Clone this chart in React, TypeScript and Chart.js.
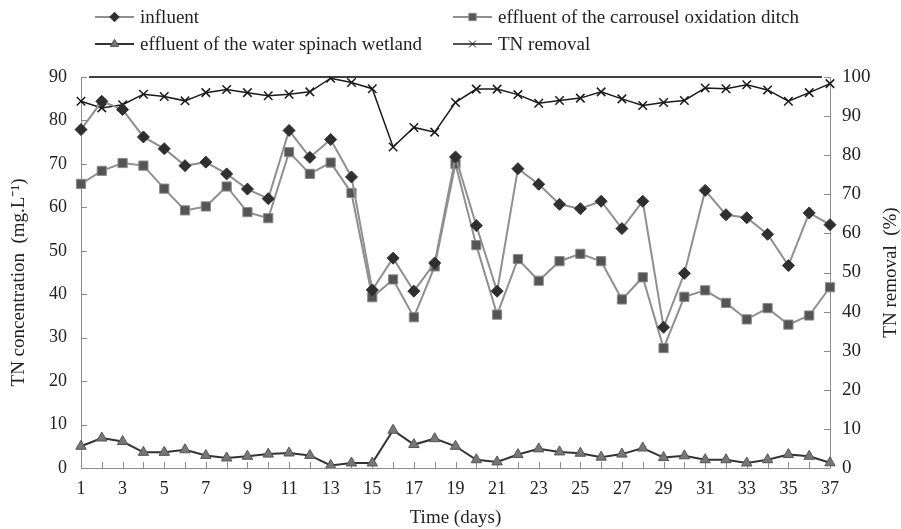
import React, { useEffect, useRef } from "react";
import { Chart, registerables } from "chart.js";

Chart.register(...registerables);

const days = ["1","2","3","4","5","6","7","8","9","10","11","12","13","14","15","16","17","18","19","20","21","22","23","24","25","26","27","28","29","30","31","32","33","34","35","36","37"];

const influent = [77.9, 84.4, 82.5, 76.2, 73.5, 69.6, 70.4, 67.7, 64.2, 62.0, 77.7, 71.5, 75.6, 67.0, 41.0, 48.3, 40.7, 47.2, 71.6, 55.8, 40.7, 68.9, 65.3, 60.7, 59.7, 61.4, 55.1, 61.4, 32.4, 44.8, 63.9, 58.3, 57.6, 53.8, 46.6, 58.7, 56.0];
const ditchEffluent = [65.4, 68.4, 70.2, 69.6, 64.3, 59.3, 60.2, 64.8, 58.9, 57.5, 72.7, 67.7, 70.3, 63.3, 39.3, 43.4, 34.7, 46.4, 70.0, 51.3, 35.3, 48.1, 43.1, 47.6, 49.3, 47.6, 38.8, 43.9, 27.6, 39.4, 40.9, 38.0, 34.2, 36.8, 33.0, 35.1, 41.6];
const wetlandEffluent = [5.0, 6.9, 6.1, 3.6, 3.6, 4.2, 2.9, 2.3, 2.7, 3.2, 3.45, 2.9, 0.6, 1.15, 1.15, 8.7, 5.4, 6.75, 5.0, 1.9, 1.4, 3.1, 4.4, 3.7, 3.4, 2.5, 3.2, 4.6, 2.4, 2.8, 1.9, 1.9, 1.15, 1.9, 3.1, 2.7, 1.2];
const tnRemoval = [93.8, 92.1, 92.9, 95.6, 95.0, 93.9, 96.0, 96.8, 96.0, 95.2, 95.6, 96.2, 99.7, 98.6, 97.0, 82.1, 87.1, 85.9, 93.5, 96.9, 96.9, 95.5, 93.3, 94.0, 94.6, 96.2, 94.4, 92.7, 93.5, 94.0, 97.2, 97.0, 98.0, 96.7, 93.8, 96.0, 98.3];

const seriesNames = [
  "influent",
  "effluent of the carrousel oxidation ditch",
  "effluent of the water spinach wetland",
  "TN removal",
];
const leftTitle = "TN concentration  (mg.L\u207B\u00B9)";
const rightTitle = "TN removal  (%)";
const xTitle = "Time (days)";

const FONT = "'Liberation Serif', 'Times New Roman', serif";

function drawMarker(ctx: CanvasRenderingContext2D, style: string, r: number, x: number, y: number) {
  ctx.beginPath();
  if (style === "rectRot") {
    ctx.moveTo(x, y - r);
    ctx.lineTo(x + r, y);
    ctx.lineTo(x, y + r);
    ctx.lineTo(x - r, y);
    ctx.closePath();
    ctx.fill();
    ctx.stroke();
  } else if (style === "rect") {
    const s = r * Math.SQRT1_2;
    ctx.rect(x - s, y - s, 2 * s, 2 * s);
    ctx.fill();
    ctx.stroke();
  } else if (style === "triangle") {
    ctx.moveTo(x, y - r);
    ctx.lineTo(x + r * 0.866, y + r * 0.5);
    ctx.lineTo(x - r * 0.866, y + r * 0.5);
    ctx.closePath();
    ctx.fill();
    ctx.stroke();
  } else {
    const s = r * Math.SQRT1_2;
    ctx.moveTo(x - s, y - s);
    ctx.lineTo(x + s, y + s);
    ctx.moveTo(x + s, y - s);
    ctx.lineTo(x - s, y + s);
    ctx.stroke();
  }
}

const axesPlugin = {
  id: "customAxes",
  beforeDatasetsDraw(chart: any) {
    const { ctx, chartArea } = chart;
    const { left, right, top, bottom } = chartArea;
    const x = chart.scales.x;
    const y = chart.scales.y;
    const y1 = chart.scales.y1;
    ctx.save();
    ctx.lineWidth = 1;
    ctx.strokeStyle = "#8c8c8c";
    ctx.beginPath();
    ctx.moveTo(left + 0.5, top);
    ctx.lineTo(left + 0.5, bottom + 0.5);
    ctx.lineTo(right + 0.5, bottom + 0.5);
    ctx.lineTo(right + 0.5, top);
    ctx.stroke();
    ctx.beginPath();
    y.ticks.forEach((t: any) => {
      const py = Math.round(y.getPixelForValue(t.value)) + 0.5;
      ctx.moveTo(left, py);
      ctx.lineTo(left + 6, py);
    });
    y1.ticks.forEach((t: any) => {
      const py = Math.round(y1.getPixelForValue(t.value)) + 0.5;
      ctx.moveTo(right, py);
      ctx.lineTo(right - 6, py);
    });
    days.forEach((_, i) => {
      const px = Math.round(x.getPixelForValue(i)) + 0.5;
      ctx.moveTo(px, bottom);
      ctx.lineTo(px, bottom - 6);
    });
    ctx.stroke();
    ctx.strokeStyle = "#000";
    ctx.lineWidth = 1.5;
    ctx.beginPath();
    ctx.moveTo(left + 8, top);
    ctx.lineTo(right - 8, top);
    ctx.stroke();
    ctx.restore();
  },
  afterDraw(chart: any) {
    const { ctx, chartArea } = chart;
    ctx.save();
    ctx.fillStyle = "#222";
    ctx.font = `19px ${FONT}`;
    ctx.textAlign = "center";
    ctx.textBaseline = "middle";
    ctx.translate(19, (chartArea.top + chartArea.bottom) / 2 + 10);
    ctx.rotate(-Math.PI / 2);
    ctx.fillText(leftTitle, 0, 0);
    ctx.setTransform(1, 0, 0, 1, 0, 0);
    ctx.translate(891, (chartArea.top + chartArea.bottom) / 2);
    ctx.rotate(-Math.PI / 2);
    ctx.fillText(rightTitle, 0, 0);
    ctx.setTransform(1, 0, 0, 1, 0, 0);

    const items = [
      { ds: 0, x: 95, y: 17 },
      { ds: 1, x: 453, y: 17 },
      { ds: 2, x: 95, y: 44 },
      { ds: 3, x: 453, y: 44 },
    ];
    items.forEach((it) => {
      const ds = chart.data.datasets[it.ds];
      ctx.strokeStyle = ds.borderColor;
      ctx.lineWidth = ds.borderWidth;
      ctx.beginPath();
      ctx.moveTo(it.x, it.y);
      ctx.lineTo(it.x + 39, it.y);
      ctx.stroke();
      ctx.fillStyle = ds.pointBackgroundColor;
      ctx.strokeStyle = ds.pointBorderColor;
      ctx.lineWidth = 1;
      drawMarker(ctx, ds.pointStyle, ds.pointRadius * 0.8, it.x + 19.5, it.y);
      ctx.fillStyle = "#222";
      ctx.font = `19px ${FONT}`;
      ctx.textAlign = "left";
      ctx.textBaseline = "middle";
      ctx.fillText(seriesNames[it.ds], it.x + 45, it.y + 1);
    });
    ctx.restore();
  },
};

export default function App() {
  const ref = useRef<HTMLCanvasElement | null>(null);
  useEffect(() => {
    if (!ref.current) return;
    Chart.defaults.font.family = FONT;
    Chart.defaults.color = "#222";
    const chart: any = new Chart(ref.current, {
      type: "line",
      data: {
        labels: days,
        datasets: [
          {
            label: seriesNames[0],
            data: influent,
            yAxisID: "y",
            borderColor: "#8f8f8f",
            borderWidth: 2,
            pointStyle: "rectRot",
            pointRadius: 6,
            pointBackgroundColor: "#2f2f2f",
            pointBorderColor: "#2f2f2f",
            pointBorderWidth: 1,
            tension: 0,
          },
          {
            label: seriesNames[1],
            data: ditchEffluent,
            yAxisID: "y",
            borderColor: "#8f8f8f",
            borderWidth: 2,
            pointStyle: "rect",
            pointRadius: 6.5,
            pointBackgroundColor: "#555555",
            pointBorderColor: "#8a8a8a",
            pointBorderWidth: 1,
            tension: 0,
          },
          {
            label: seriesNames[2],
            data: wetlandEffluent,
            yAxisID: "y",
            borderColor: "#333333",
            borderWidth: 2,
            pointStyle: "triangle",
            pointRadius: 6,
            pointBackgroundColor: "#777777",
            pointBorderColor: "#555555",
            pointBorderWidth: 1,
            tension: 0,
          },
          {
            label: seriesNames[3],
            data: tnRemoval,
            yAxisID: "y1",
            borderColor: "#1a1a1a",
            borderWidth: 1.5,
            pointStyle: "crossRot",
            pointRadius: 6,
            pointBackgroundColor: "#1a1a1a",
            pointBorderColor: "#1a1a1a",
            pointBorderWidth: 1.5,
            tension: 0,
          },
        ],
      },
      options: {
        animation: false,
        responsive: true,
        maintainAspectRatio: false,
        layout: { padding: { top: 77, left: 0, right: 0, bottom: 0 } },
        plugins: { legend: { display: false }, tooltip: { enabled: false } },
        scales: {
          x: {
            type: "category",
            offset: false,
            grid: { display: false, drawTicks: false },
            border: { display: false },
            ticks: {
              autoSkip: false,
              maxRotation: 0,
              padding: 10,
              color: "#222",
              font: { size: 18, family: FONT },
              callback: (_v: any, i: number) => (i % 2 === 0 ? days[i] : ""),
            },
            title: { display: true, text: xTitle, color: "#222", font: { size: 19, family: FONT }, padding: { top: 0, bottom: 0 } },
            afterFit: (s: any) => { s.height = 61; },
          },
          y: {
            position: "left",
            min: 0,
            max: 90,
            grid: { display: false, drawTicks: false },
            border: { display: false },
            ticks: { stepSize: 10, padding: 14, color: "#222", font: { size: 18, family: FONT } },
            afterFit: (s: any) => { s.width = 81; },
          },
          y1: {
            position: "right",
            min: 0,
            max: 100,
            grid: { display: false, drawTicks: false },
            border: { display: false },
            ticks: { stepSize: 10, padding: 12, color: "#222", font: { size: 19, family: FONT } },
            afterFit: (s: any) => { s.width = 71; },
          },
        },
      },
      plugins: [axesPlugin],
    });
    return () => chart.destroy();
  }, []);
  return (
    <div style={{ position: "absolute", left: 0, top: 0, width: 901, height: 529, background: "#fff" }}>
      <canvas ref={ref} />
    </div>
  );
}
